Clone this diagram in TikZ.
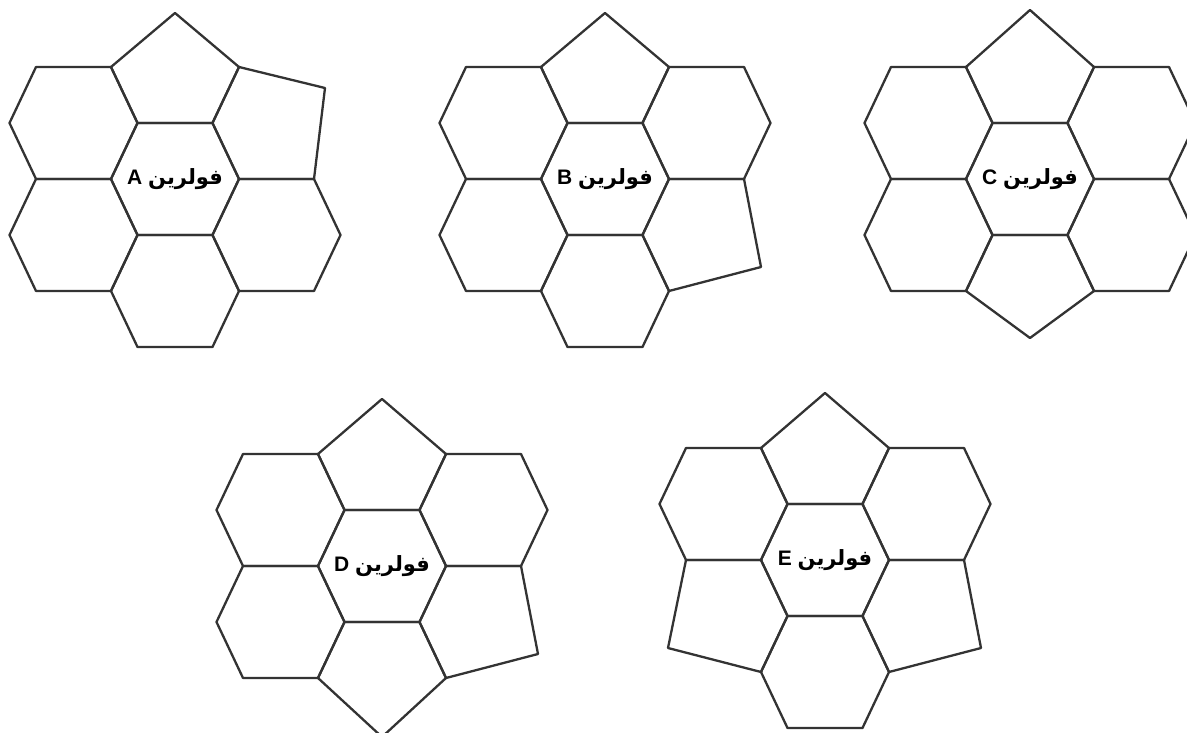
\documentclass[tikz,border=0pt]{standalone}
\usepackage{fontspec}
\setmainfont{Liberation Sans}
\newfontfamily\arabicfont[Script=Arabic]{DejaVu Sans}
\TeXXeTstate=1
\tikzset{
  cell/.style={draw=black!80, line width=2.3pt, line join=round},
  lbl/.style={font=\bfseries\fontsize{21}{24}\selectfont, inner sep=0pt}
}
% hexagon centred at (#1,#2), relative to the cluster centre (pixel units, y down)
\newcommand\cellhex[2]{\draw[cell] (#1-37.5,#2-56) -- (#1+37.5,#2-56) -- (#1+64,#2) -- (#1+37.5,#2+56) -- (#1-37.5,#2+56) -- (#1-64,#2) -- cycle;}
\newcommand\toppent[1]{\draw[cell] (-37.5,-56) -- (-64,-112) -- (0,#1) -- (64,-112) -- (37.5,-56) -- cycle;}
\newcommand\botpent[1]{\draw[cell] (-37.5,56) -- (-64,112) -- (0,#1) -- (64,112) -- (37.5,56) -- cycle;}
\newcommand\urpent{\draw[cell] (37.5,-56) -- (64,-112) -- (150,-91) -- (139,0) -- (64,0) -- cycle;}
\newcommand\lrpent{\draw[cell] (37.5,56) -- (64,0) -- (139,0) -- (156,88) -- (64,112) -- cycle;}
\newcommand\llpent{\draw[cell] (-37.5,56) -- (-64,0) -- (-139,0) -- (-157,88) -- (-64,112) -- cycle;}
\newcommand\fulllabel[2]{\node[lbl] (#1) at (0,0) {\beginR{\arabicfont\bfseries فولرين} #2\endR};}
\begin{document}
\begin{tikzpicture}[x=1pt,y=-1pt]
\useasboundingbox (0,0) rectangle (1187,733);
\clip (0,0) rectangle (1187,733);
% ---------- A ----------
\begin{scope}[shift={(175,179)}]
  \cellhex{0}{0}
  \toppent{-166}
  \urpent
  \cellhex{101.5}{56}
  \cellhex{0}{112}
  \cellhex{-101.5}{56}
  \cellhex{-101.5}{-56}
  \fulllabel{la}{A}
\end{scope}
% ---------- B ----------
\begin{scope}[shift={(605,179)}]
  \cellhex{0}{0}
  \toppent{-166}
  \cellhex{101.5}{-56}
  \lrpent
  \cellhex{0}{112}
  \cellhex{-101.5}{56}
  \cellhex{-101.5}{-56}
  \fulllabel{lb}{B}
\end{scope}
% ---------- C ----------
\begin{scope}[shift={(1030,179)}]
  \cellhex{0}{0}
  \toppent{-169}
  \cellhex{101.5}{-56}
  \cellhex{101.5}{56}
  \botpent{159}
  \cellhex{-101.5}{56}
  \cellhex{-101.5}{-56}
  \fulllabel{lc}{C}
\end{scope}
% ---------- D ----------
\begin{scope}[shift={(382,566)}]
  \cellhex{0}{0}
  \toppent{-167}
  \cellhex{101.5}{-56}
  \lrpent
  \botpent{171}
  \cellhex{-101.5}{56}
  \cellhex{-101.5}{-56}
  \fulllabel{ld}{D}
\end{scope}
% ---------- E ----------
\begin{scope}[shift={(825,560)}]
  \cellhex{0}{0}
  \toppent{-167}
  \cellhex{101.5}{-56}
  \lrpent
  \cellhex{0}{112}
  \llpent
  \cellhex{-101.5}{-56}
  \fulllabel{le}{E}
\end{scope}
\end{tikzpicture}
\end{document}
